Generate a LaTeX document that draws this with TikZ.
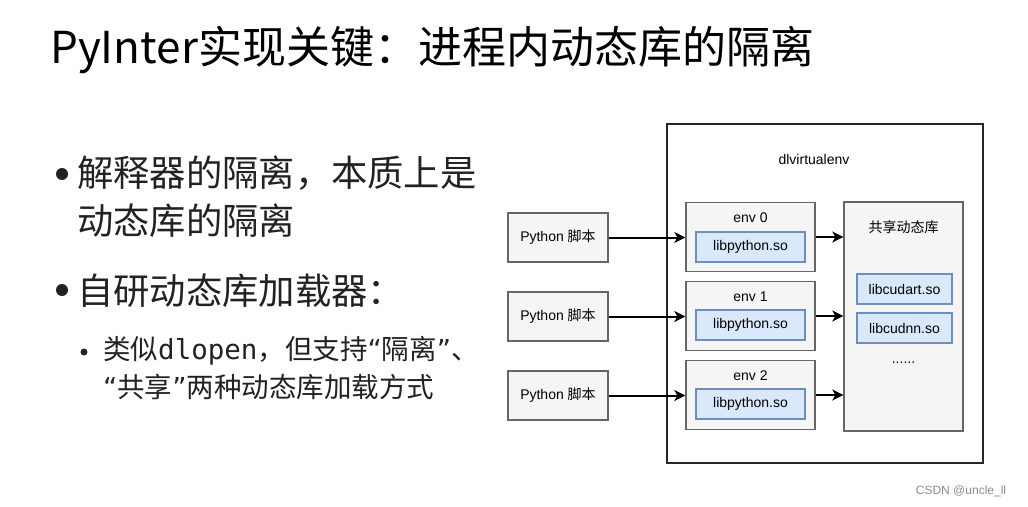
\documentclass[tikz,border=0pt]{standalone}
\usepackage{fontspec}
\usepackage{xcolor}
\setmainfont{Liberation Sans}
\newfontfamily\cjk{Noto Sans CJK SC}
\newfontfamily\codefont{DejaVu Sans Mono}
\newfontfamily\quotefont{DejaVu Sans}
\usetikzlibrary{positioning, arrows.meta}

\definecolor{boxgray}{HTML}{F5F5F5}
\definecolor{boxline}{HTML}{666666}
\definecolor{libblue}{HTML}{DAE8FC}
\definecolor{libline}{HTML}{6C8EBF}
\definecolor{bodytext}{HTML}{222222}

\newcommand{\openq}{{\quotefont “}}
\newcommand{\closeq}{{\quotefont ”}}

\begin{document}
\begin{tikzpicture}[x=1pt, y=-1pt,
        graybox/.style={draw=boxline, fill=boxgray, line width=1.3pt, inner sep=0pt},
        libbox/.style={draw=libline, fill=libblue, line width=1.3pt, inner sep=0pt,
            font=\fontsize{14}{16}\selectfont},
        small/.style={font=\fontsize{14}{16}\selectfont},
        bigtext/.style={anchor=west, inner sep=0pt, text=bodytext, font=\cjk\fontsize{36.3}{40}\selectfont},
        subtext/.style={anchor=west, inner sep=0pt, text=bodytext, font=\cjk\fontsize{27.5}{30}\selectfont},
        link/.style={line width=2pt, -{Stealth[length=11pt, width=11pt, inset=3pt]}}]
        \useasboundingbox[fill=white] (0, 0) rectangle (1028, 506);

        % left side text
        \node[anchor=west, inner sep=0pt, font=\cjk\fontsize{44}{50}\selectfont] at (50, 50) (title) {PyInter实现关键：进程内动态库的隔离};
        \node[circle, fill=bodytext, inner sep=0pt, minimum size=12pt] at (62, 174) (dot1) {};
        \node[bigtext] at (77, 173) (l1) {解释器的隔离，本质上是};
        \node[bigtext] at (77, 221) (l2) {动态库的隔离};
        \node[circle, fill=bodytext, inner sep=0pt, minimum size=12pt] at (62, 290) (dot2) {};
        \node[bigtext] at (77, 291) (l3) {自研动态库加载器：};
        \node[circle, fill=bodytext, inner sep=0pt, minimum size=7pt] at (84, 352) (dot3) {};
        \node[subtext] at (103, 351) (s1) {类似{\codefont dlopen}，但支持\openq 隔离\closeq 、};
        \node[subtext] at (103, 387) (s2) {\openq 共享\closeq 两种动态库加载方式};

        % diagram
        \node[draw=black!85, fill=white, line width=2pt, minimum width=316pt, minimum height=339pt] at (825, 293.5) (venv) {};
        \node[small] at (814, 159) (venvname) {dlvirtualenv};

        \node[graybox, small, minimum width=100pt, minimum height=49pt] at (558, 237.5) (py0) {Python {\cjk 脚本}};
        \node[graybox, small, minimum width=100pt, minimum height=49pt] at (558, 316.5) (py1) {Python {\cjk 脚本}};
        \node[graybox, small, minimum width=100pt, minimum height=49pt] at (558, 395.5) (py2) {Python {\cjk 脚本}};

        \node[graybox, minimum width=129pt, minimum height=69pt] at (750.5, 237) (env0) {};
        \node[graybox, minimum width=129pt, minimum height=69pt] at (750.5, 316) (env1) {};
        \node[graybox, minimum width=129pt, minimum height=69pt] at (750.5, 395) (env2) {};
        \node[small] at (750.5, 218) (envname0) {env 0};
        \node[small] at (750.5, 297) (envname1) {env 1};
        \node[small] at (750.5, 376) (envname2) {env 2};
        \node[libbox, minimum width=109pt, minimum height=30pt] at (750.5, 247) (lib0) {libpython.so};
        \node[libbox, minimum width=109pt, minimum height=30pt] at (750.5, 325) (lib1) {libpython.so};
        \node[libbox, minimum width=109pt, minimum height=30pt] at (750.5, 404) (lib2) {libpython.so};

        \node[graybox, minimum width=119pt, minimum height=229pt] at (903.5, 316.5) (shared) {};
        \node[small, font=\cjk\fontsize{14}{16}\selectfont] at (903.5, 227) (sharedname) {共享动态库};
        \node[libbox, minimum width=95pt, minimum height=30pt] at (904.5, 289) (cudart) {libcudart.so};
        \node[libbox, minimum width=95pt, minimum height=30pt] at (904.5, 328) (cudnn) {libcudnn.so};
        \node[small] at (903.5, 363) (more) {......};

        \draw[link] (py0) edge (env0.west |- py0)
            (py1) edge (env1.west |- py1)
            (py2) edge (env2.west |- py2);
        \draw[link] (env0) edge (env0 -| shared.west)
            (env1) edge (env1 -| shared.west)
            (env2) edge (env2 -| shared.west);

        \node[text=black!45, font=\fontsize{12}{14}\selectfont] at (961, 491) (mark) {CSDN @uncle\_ll};
    \end{tikzpicture}
\end{document}
